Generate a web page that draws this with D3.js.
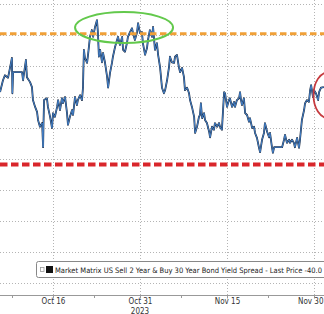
<!DOCTYPE html>
<html>
<head>
<meta charset="utf-8">
<script src="https://cdn.jsdelivr.net/npm/d3@7"></script>
<style>
  html, body { margin: 0; padding: 0; background: #fff; }
  #canvas { width: 324px; height: 314px; }
</style>
</head>
<body>
<div id="canvas"></div>
<script>
// spread readings (bp)
let times = [
  "2023-10-06 21", "2023-10-07 09", "2023-10-07 17", "2023-10-08 06", "2023-10-08 14", "2023-10-08 22",
  "2023-10-09 00", "2023-10-09 03", "2023-10-09 11", "2023-10-10 16", "2023-10-10 20", "2023-10-11 08",
  "2023-10-11 12", "2023-10-12 01", "2023-10-12 09", "2023-10-12 13", "2023-10-12 22", "2023-10-13 06",
  "2023-10-13 10", "2023-10-13 18", "2023-10-14 03", "2023-10-14 07", "2023-10-14 09", "2023-10-14 11",
  "2023-10-14 23", "2023-10-15 03", "2023-10-15 12", "2023-10-15 20", "2023-10-16 00", "2023-10-16 08",
  "2023-10-16 17", "2023-10-16 21", "2023-10-17 05", "2023-10-17 13", "2023-10-17 17", "2023-10-18 02",
  "2023-10-18 10", "2023-10-18 14", "2023-10-18 22", "2023-10-19 07", "2023-10-19 11", "2023-10-19 19",
  "2023-10-20 03", "2023-10-20 07", "2023-10-20 16", "2023-10-21 00", "2023-10-21 04", "2023-10-21 06",
  "2023-10-21 08", "2023-10-21 12", "2023-10-21 21", "2023-10-22 01", "2023-10-22 09", "2023-10-22 17",
  "2023-10-22 22", "2023-10-23 06", "2023-10-23 14", "2023-10-23 18", "2023-10-23 22", "2023-10-24 03",
  "2023-10-24 11", "2023-10-24 15", "2023-10-24 23", "2023-10-25 08", "2023-10-25 12", "2023-10-25 20",
  "2023-10-26 04", "2023-10-26 08", "2023-10-26 17", "2023-10-27 01", "2023-10-27 05", "2023-10-27 13",
  "2023-10-27 22", "2023-10-28 02", "2023-10-28 10", "2023-10-28 18", "2023-10-28 22", "2023-10-29 07",
  "2023-10-29 15", "2023-10-29 19", "2023-10-30 03", "2023-10-30 12", "2023-10-30 16", "2023-10-31 00",
  "2023-10-31 08", "2023-10-31 12", "2023-10-31 21", "2023-11-01 05", "2023-11-01 09", "2023-11-01 17",
  "2023-11-02 02", "2023-11-02 06", "2023-11-02 14", "2023-11-02 22", "2023-11-03 03", "2023-11-03 11",
  "2023-11-03 19", "2023-11-04 03", "2023-11-04 08", "2023-11-04 16", "2023-11-05 00", "2023-11-05 04",
  "2023-11-05 12", "2023-11-05 21", "2023-11-06 01", "2023-11-06 09", "2023-11-06 17", "2023-11-06 22",
  "2023-11-07 06", "2023-11-07 14", "2023-11-07 18", "2023-11-08 03", "2023-11-08 11", "2023-11-08 15",
  "2023-11-08 23", "2023-11-09 08", "2023-11-09 12", "2023-11-09 20", "2023-11-10 04", "2023-11-10 08",
  "2023-11-10 12", "2023-11-10 17", "2023-11-11 01", "2023-11-11 05", "2023-11-11 13", "2023-11-11 22",
  "2023-11-12 02", "2023-11-12 10", "2023-11-12 18", "2023-11-12 22", "2023-11-13 07", "2023-11-13 15",
  "2023-11-13 19", "2023-11-14 03", "2023-11-14 12", "2023-11-14 16", "2023-11-15 00", "2023-11-15 08",
  "2023-11-15 12", "2023-11-15 21", "2023-11-16 05", "2023-11-16 09", "2023-11-16 17", "2023-11-17 02",
  "2023-11-17 06", "2023-11-17 10", "2023-11-17 14", "2023-11-17 22", "2023-11-18 03", "2023-11-18 11",
  "2023-11-18 19", "2023-11-18 23", "2023-11-19 08", "2023-11-19 16", "2023-11-19 20", "2023-11-20 04",
  "2023-11-20 12", "2023-11-20 17", "2023-11-21 01", "2023-11-21 09", "2023-11-21 13", "2023-11-21 22",
  "2023-11-22 06", "2023-11-22 10", "2023-11-22 18", "2023-11-22 22", "2023-11-23 03", "2023-11-24 12",
  "2023-11-24 20", "2023-11-25 00", "2023-11-25 08", "2023-11-25 17", "2023-11-25 21", "2023-11-26 05",
  "2023-11-26 13", "2023-11-26 17", "2023-11-27 02", "2023-11-27 10", "2023-11-27 14", "2023-11-27 22",
  "2023-11-28 07", "2023-11-28 11", "2023-11-28 19", "2023-11-29 03", "2023-11-29 08", "2023-11-29 12",
  "2023-11-29 20", "2023-11-30 00", "2023-11-30 08", "2023-11-30 17", "2023-11-30 21", "2023-12-01 05",
  "2023-12-01 17"
];

let spread = [
  -39.2, -37.3, -36.5, -36.9, -35.3, -33.7,
  -39.4, -36.0, -36.0, -36.0, -37.3, -34.0,
  -36.8, -37.6, -38.4, -40.5, -41.6, -42.4,
  -43.7, -44.8, -44.2, -48.1, -43.7, -40.5,
  -40.2, -41.6, -43.2, -45.0, -42.6, -43.2,
  -41.6, -40.5, -42.1, -40.2, -41.0, -40.0,
  -42.6, -44.5, -43.2, -42.1, -42.9, -40.0,
  -41.3, -40.5, -39.7, -40.5, -38.5, -35.2,
  -32.4, -33.7, -34.5, -33.2, -30.3, -29.2,
  -30.3, -28.7, -27.6, -29.7, -33.5, -32.4,
  -34.4, -32.9, -34.4, -36.8, -38.5, -36.1,
  -34.5, -33.5, -31.9, -30.8, -30.3, -31.6,
  -30.3, -32.4, -32.7, -31.3, -30.3, -29.5,
  -28.9, -29.7, -30.8, -29.5, -28.1, -29.7,
  -29.5, -31.3, -33.2, -32.1, -30.8, -29.2,
  -30.3, -28.7, -32.4, -31.3, -33.2, -35.2,
  -38.5, -39.4, -38.9, -37.3, -35.2, -33.5,
  -34.4, -34.5, -33.5, -33.2, -35.2, -36.0,
  -35.3, -36.8, -38.9, -38.5, -39.4, -40.5,
  -41.6, -43.2, -45.8, -44.8, -43.2, -42.9,
  -41.0, -43.4, -42.6, -43.7, -44.2, -45.6,
  -46.5, -44.8, -45.3, -44.2, -44.8, -44.2,
  -44.8, -45.3, -39.2, -39.4, -41.6, -40.5,
  -40.2, -41.6, -40.8, -41.6, -40.5, -40.2,
  -39.2, -40.5, -41.3, -40.2, -42.6, -42.9,
  -44.0, -43.4, -45.0, -44.8, -45.8, -46.6,
  -48.1, -48.9, -46.9, -45.8, -44.2, -45.6,
  -46.5, -45.8, -48.1, -49.0, -48.1, -48.1,
  -46.9, -46.1, -47.4, -46.9, -47.4, -46.9,
  -47.4, -48.1, -46.6, -48.2, -46.9, -43.7,
  -42.1, -41.0, -40.5, -40.8, -38.9, -38.1,
  -40.0, -38.9, -39.4, -40.5, -39.2, -38.5,
  -38.4
];

let gridValues = [-25, -30, -35, -40, -45, -50, -55, -60, -65, -70];
let tickDates = ["2023-10-16", "2023-10-31", "2023-11-15", "2023-11-30"];
let tickLabels = ["Oct 16", "Oct 31", "Nov 15", "Nov 30"];
let minorTickDates = ["2023-10-09", "2023-10-23", "2023-11-07", "2023-11-22"];
let yearLabel = "2023";
let resistance = -29.8;
let support = -50.9;
let legendText = "Market Matrix US Sell 2 Year & Buy 30 Year Bond Yield Spread - Last Price -40.0";

let parseTime = d3.utcParse("%Y-%m-%d %H");
let parseDay = d3.utcParse("%Y-%m-%d");

let data = times.map((t, i) => ({ t: parseTime(t), v: spread[i] }));

let svg = d3
  .select("#canvas")
  .append("svg")
  .attr("width", 324)
  .attr("height", 314)
  .style("background", "#fff")
  .style("display", "block");

let font = "'Liberation Sans Narrow', 'DejaVu Sans Condensed', 'Liberation Sans', sans-serif";

// Oct 16 sits at 53px and Nov 30 at 314px, the rest is extrapolated
let x = d3
  .scaleUtc()
  .domain([parseDay(tickDates[0]), parseDay(tickDates[3])])
  .range([53, 314]);

let y = d3.scaleLinear().domain([-25, -70]).range([4, 283]);

let axisY = 295;

// grid
svg
  .append("g")
  .selectAll("line")
  .data(gridValues)
  .join("line")
  .attr("x1", 0)
  .attr("x2", 324)
  .attr("y1", (d) => y(d) + 0.5)
  .attr("y2", (d) => y(d) + 0.5)
  .attr("stroke", "#b4b4b4")
  .attr("stroke-dasharray", "1,2");

svg
  .append("g")
  .selectAll("line")
  .data(tickDates)
  .join("line")
  .attr("x1", (d) => Math.round(x(parseDay(d))) + 0.5)
  .attr("x2", (d) => Math.round(x(parseDay(d))) + 0.5)
  .attr("y1", 0)
  .attr("y2", axisY)
  .attr("stroke", "#b4b4b4")
  .attr("stroke-dasharray", "1,2");

// x axis
let xAxis = d3
  .axisBottom(x)
  .tickValues(tickDates.map(parseDay))
  .tickSize(3)
  .tickFormat((d, i) => tickLabels[i]);

let gx = svg
  .append("g")
  .attr("transform", `translate(0,${axisY + 0.5})`)
  .call(xAxis);
gx.select(".domain").remove();
gx.selectAll(".tick line").attr("stroke", "#999");
gx.selectAll(".tick text")
  .attr("y", 3)
  .style("font-family", font)
  .style("font-size", "8px")
  .attr("fill", "#333");
// last label hugs the right edge like the original
gx.selectAll(".tick text")
  .filter((d, i) => i === tickDates.length - 1)
  .attr("text-anchor", "end")
  .attr("x", 323 - x(parseDay(tickDates[3])));

svg
  .append("line")
  .attr("x1", 0)
  .attr("x2", 324)
  .attr("y1", axisY + 0.5)
  .attr("y2", axisY + 0.5)
  .attr("stroke", "#999");

svg
  .append("g")
  .selectAll("line")
  .data(minorTickDates)
  .join("line")
  .attr("x1", (d) => Math.round(x(parseDay(d))) + 0.5)
  .attr("x2", (d) => Math.round(x(parseDay(d))) + 0.5)
  .attr("y1", axisY)
  .attr("y2", axisY + 3)
  .attr("stroke", "#999");

svg
  .append("text")
  .attr("x", x(parseDay(tickDates[1])))
  .attr("y", 313.5)
  .attr("text-anchor", "middle")
  .style("font-family", font)
  .style("font-size", "8px")
  .attr("fill", "#333")
  .text(yearLabel);

// spread line, dark outline + blue core
let line = d3
  .line()
  .x((d) => x(d.t))
  .y((d) => y(d.v));

svg
  .append("path")
  .datum(data)
  .attr("d", line)
  .attr("fill", "none")
  .attr("stroke", "#18263c")
  .attr("stroke-width", 1.8)
  .attr("stroke-linejoin", "round");

svg
  .append("path")
  .datum(data)
  .attr("d", line)
  .attr("fill", "none")
  .attr("stroke", "#4a8ad6")
  .attr("stroke-width", 0.9)
  .attr("stroke-linejoin", "round");

// levels
svg
  .append("line")
  .attr("x1", 0)
  .attr("x2", 324)
  .attr("y1", y(resistance))
  .attr("y2", y(resistance))
  .attr("stroke", "#f0a038")
  .attr("stroke-width", 2.8)
  .attr("stroke-dasharray", "6.5,3.5");

svg
  .append("line")
  .attr("x1", 0)
  .attr("x2", 324)
  .attr("y1", y(support))
  .attr("y2", y(support))
  .attr("stroke", "#d9262b")
  .attr("stroke-width", 4)
  .attr("stroke-dasharray", "7.5,3.5");

// annotations
svg
  .append("ellipse")
  .attr("cx", x(parseTime("2023-10-28 06")))
  .attr("cy", y(-28.8))
  .attr("rx", 49)
  .attr("ry", 15.5)
  .attr("fill", "none")
  .attr("stroke", "#63c94c")
  .attr("stroke-width", 2);

svg
  .append("ellipse")
  .attr("cx", x(parseTime("2023-12-02 12")))
  .attr("cy", y(-39.7))
  .attr("rx", 15)
  .attr("ry", 23)
  .attr("fill", "none")
  .attr("stroke", "#c63a3e")
  .attr("stroke-width", 1.8);

// legend
let legend = svg.append("g");
legend
  .append("rect")
  .attr("x", 36.5)
  .attr("y", 261.5)
  .attr("width", 300)
  .attr("height", 16)
  .attr("rx", 2)
  .attr("fill", "#fff")
  .attr("stroke", "#888");

legend
  .append("rect")
  .attr("x", 40.5)
  .attr("y", 267.5)
  .attr("width", 3.5)
  .attr("height", 4)
  .attr("fill", "none")
  .attr("stroke", "#999")
  .attr("stroke-width", 0.8);

legend
  .append("rect")
  .attr("x", 46)
  .attr("y", 266)
  .attr("width", 7)
  .attr("height", 7)
  .attr("fill", "#111");

legend
  .append("text")
  .attr("x", 55)
  .attr("y", 272.5)
  .style("font-family", font)
  .style("font-size", "7.5px")
  .attr("fill", "#222")
  .text(legendText);
</script>
</body>
</html>
